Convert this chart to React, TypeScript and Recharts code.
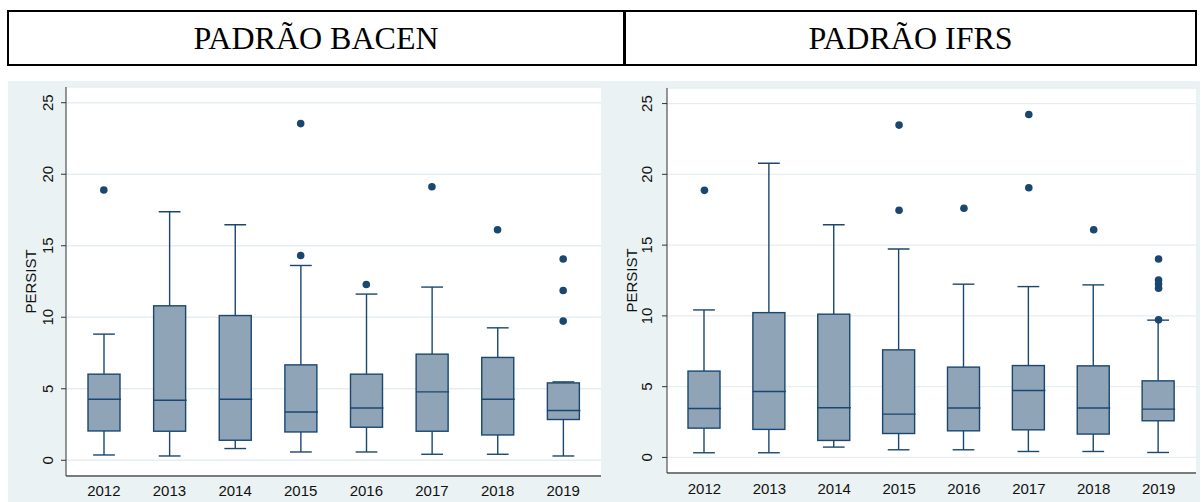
// Two Stata-style box plots of PERSIST by year, BACEN vs IFRS standard.
// Recharts has no box plot, so each box is a range Bar [low, high] with a
// custom shape; outliers are dot-only Lines.

import { ComposedChart, Bar, Line, XAxis, YAxis, CartesianGrid } from 'recharts'

const years = ['2012', '2013', '2014', '2015', '2016', '2017', '2018', '2019']
const yTicks = [0, 5, 10, 15, 20, 25]

// PADRÃO BACEN
const bacenLow = [0.37, 0.3, 0.82, 0.58, 0.58, 0.42, 0.42, 0.3]
const bacenQ1 = [2.05, 2.03, 1.4, 1.98, 2.31, 2.03, 1.77, 2.85]
const bacenMedian = [4.27, 4.2, 4.27, 3.38, 3.66, 4.78, 4.27, 3.48]
const bacenQ3 = [6.02, 10.8, 10.12, 6.67, 6.02, 7.42, 7.19, 5.41]
const bacenHigh = [8.82, 17.38, 16.47, 13.62, 11.62, 12.11, 9.26, 5.48]
const bacenOutliers = [[18.9], [], [], [23.54, 14.32], [12.29], [19.13], [16.12], [14.07, 11.87, 9.73]]

// PADRÃO IFRS
const ifrsLow = [0.33, 0.33, 0.73, 0.54, 0.54, 0.42, 0.42, 0.35]
const ifrsQ1 = [2.07, 1.98, 1.2, 1.69, 1.88, 1.95, 1.65, 2.59]
const ifrsMedian = [3.46, 4.66, 3.51, 3.06, 3.49, 4.73, 3.49, 3.41]
const ifrsQ3 = [6.1, 10.23, 10.12, 7.6, 6.38, 6.49, 6.47, 5.41]
const ifrsHigh = [10.42, 20.78, 16.44, 14.73, 12.24, 12.07, 12.19, 9.7]
const ifrsOutliers = [[18.87], [], [], [23.48, 17.46], [17.6], [24.23, 19.05], [16.09], [14.02, 12.54, 12.25, 11.95, 9.72]]

const NAVY = '#1a476f'
const BOX_FILL = '#8fa4b7'
const PANEL_BG = '#eaf2f3'
const MAX_OUTLIERS = 5

function buildRows(low: number[], q1: number[], median: number[], q3: number[], high: number[], outliers: number[][]) {
  return years.map((year, i) => {
    const row: Record<string, unknown> = {
      year,
      low: low[i],
      q1: q1[i],
      median: median[i],
      q3: q3[i],
      high: high[i],
    }
    for (let k = 0; k < MAX_OUTLIERS; k++) row['o' + k] = outliers[i][k] ?? null
    return row
  })
}

// The bar rectangle spans [low, high]; the other stats are placed on the
// same linear mapping the y scale gave to that rectangle.
function BoxShape(props: any) {
  const { x, y, width, height, payload } = props
  const { low, q1, median, q3, high } = payload
  const py = (v: number) => y + ((high - v) / (high - low)) * height
  const cx = x + width / 2
  const cap = width * 0.34
  const sw = 1.4
  return (
    <g>
      <line x1={cx} x2={cx} y1={py(high)} y2={py(q3)} stroke={NAVY} strokeWidth={sw} />
      <line x1={cx} x2={cx} y1={py(q1)} y2={py(low)} stroke={NAVY} strokeWidth={sw} />
      <line x1={cx - cap} x2={cx + cap} y1={py(high)} y2={py(high)} stroke={NAVY} strokeWidth={sw} />
      <line x1={cx - cap} x2={cx + cap} y1={py(low)} y2={py(low)} stroke={NAVY} strokeWidth={sw} />
      <rect x={x} y={py(q3)} width={width} height={py(q1) - py(q3)} fill={BOX_FILL} stroke={NAVY} strokeWidth={sw} />
      <line x1={x} x2={x + width + 1} y1={py(median)} y2={py(median)} stroke={NAVY} strokeWidth={sw} />
    </g>
  )
}

const FONT = '"Liberation Sans", Arial, sans-serif'

function YTick({ x, y, payload, shift }: any) {
  const tx = x - shift
  return (
    <text x={tx} y={y} transform={`rotate(-90 ${tx} ${y})`} textAnchor="middle" dominantBaseline="central"
      fontSize={15} fontFamily={FONT} fill="#111">
      {payload.value}
    </text>
  )
}

function XTick({ x, y, payload, drop }: any) {
  return (
    <text x={x} y={y + drop} textAnchor="middle" dominantBaseline="central" fontSize={15} fontFamily={FONT} fill="#111">
      {payload.value}
    </text>
  )
}

interface PanelProps {
  rows: Record<string, unknown>[]
  left: number
  axisWidth: number
  top: number
  right: number
  xAxisHeight: number
  tickShift: number
  xDrop: number
  labelX: number
}

function Panel({ rows, left, axisWidth, top, right, xAxisHeight, tickShift, xDrop, labelX }: PanelProps) {
  return (
    <div style={{ position: 'absolute', left, top: 81, width: 596, height: 421, background: PANEL_BG }}>
      <ComposedChart width={596} height={421} data={rows} margin={{ top, right, left: 0, bottom: 0 }}>
        <CartesianGrid vertical={false} fill="#fff" stroke="#e6eef1" strokeWidth={1.3} />
        <XAxis
          dataKey="year"
          height={xAxisHeight}
          padding={{ left: 5, right: 5 }}
          tickLine={false}
          tickSize={0}
          tickMargin={0}
          axisLine={{ stroke: '#555', strokeWidth: 1.3 }}
          tick={(p: any) => <XTick {...p} drop={xDrop} />}
        />
        <YAxis
          width={axisWidth}
          domain={[-1.1, 26.1]}
          ticks={yTicks}
          allowDataOverflow
          tickSize={5}
          tickMargin={2}
          axisLine={{ stroke: '#333', strokeWidth: 1 }}
          tickLine={{ stroke: '#333' }}
          tick={(p: any) => <YTick {...p} shift={tickShift} />}
          label={{
            content: (p: any) => {
              const vb = p.viewBox
              const cy = vb.y + vb.height / 2
              return (
                <text x={labelX} y={cy} transform={`rotate(-90 ${labelX} ${cy})`} textAnchor="middle"
                  dominantBaseline="central" fontSize={15} fontFamily={FONT} fill="#111">
                  PERSIST
                </text>
              )
            },
          }}
        />
        <Bar dataKey={(d: any) => [d.low, d.high]} barSize={32} shape={BoxShape} isAnimationActive={false} />
        {Array.from({ length: MAX_OUTLIERS }, (_, k) => (
          <Line
            key={k}
            dataKey={'o' + k}
            stroke="none"
            dot={{ r: 3.8, fill: NAVY, stroke: NAVY, strokeWidth: 0 }}
            activeDot={false}
            isAnimationActive={false}
          />
        ))}
      </ComposedChart>
    </div>
  )
}

const bacenRows = buildRows(bacenLow, bacenQ1, bacenMedian, bacenQ3, bacenHigh, bacenOutliers)
const ifrsRows = buildRows(ifrsLow, ifrsQ1, ifrsMedian, ifrsQ3, ifrsHigh, ifrsOutliers)

const headerText = {
  fontFamily: '"Liberation Serif", "Times New Roman", serif',
  fontSize: 32,
  color: '#000',
  display: 'flex',
  alignItems: 'center',
  justifyContent: 'center',
  height: '100%',
  boxSizing: 'border-box' as const,
}

export default function App() {
  return (
    <div style={{ position: 'absolute', left: 0, top: 0, width: 1201, height: 502, background: '#fff', overflow: 'hidden' }}>
      <div style={{ position: 'absolute', left: 7, top: 10, width: 1190, height: 56, border: '2px solid #000', boxSizing: 'border-box', display: 'flex' }}>
        <div style={{ ...headerText, width: 617, borderRight: '3px solid #000' }}>PADRÃO BACEN</div>
        <div style={{ ...headerText, flex: 1 }}>PADRÃO IFRS</div>
      </div>
      <Panel rows={bacenRows} left={8} axisWidth={58} top={6} right={3} xAxisHeight={26}
        tickShift={11.5} xDrop={14} labelX={22} />
      <Panel rows={ifrsRows} left={604} axisWidth={63} top={7} right={4} xAxisHeight={29}
        tickShift={13} xDrop={15} labelX={27} />
    </div>
  )
}
